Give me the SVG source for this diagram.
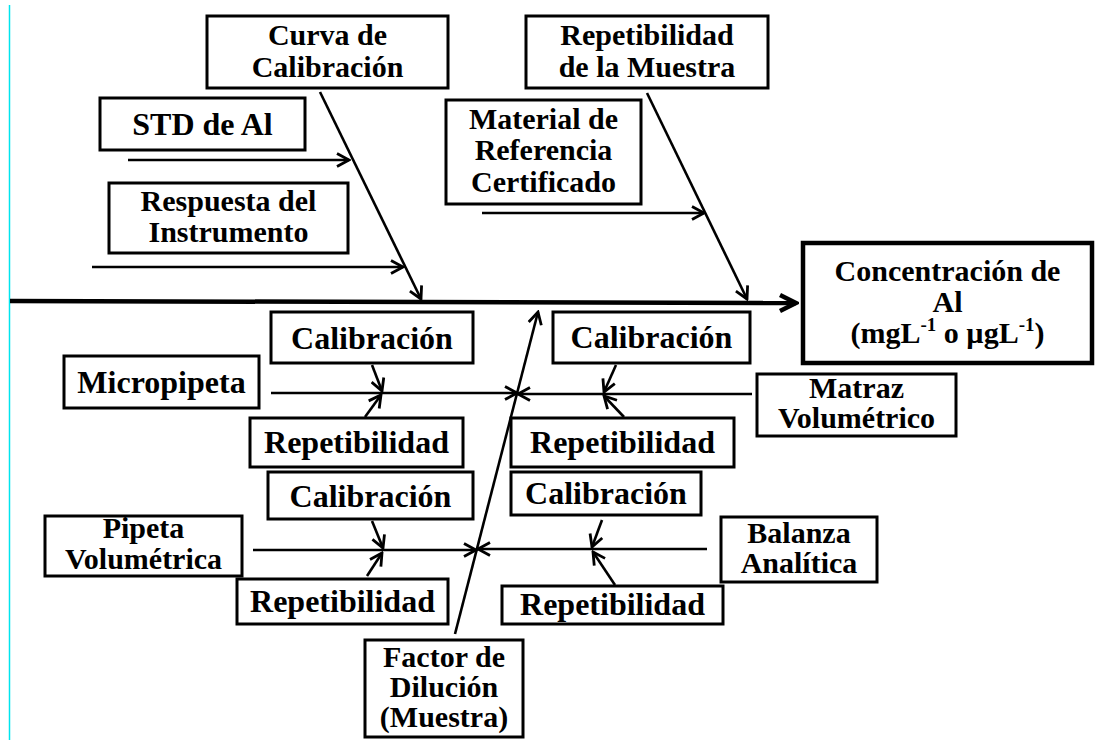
<svg xmlns="http://www.w3.org/2000/svg" width="1097" height="740" viewBox="0 0 1097 740">
<style>
.box{fill:#fff;stroke:#000;stroke-width:3}
.big{fill:#fff;stroke:#000;stroke-width:4.5}
text{font-family:"Liberation Serif","Times New Roman",serif;font-weight:bold;font-size:32px;fill:#000;text-anchor:middle}
text.m{font-size:30px}
.ln{stroke:#000;stroke-width:2.6;fill:none;marker-end:url(#ah)}
.spine{stroke:#000;stroke-width:4.5;fill:none;marker-end:url(#ahbig)}
</style>
<defs>
<marker id="ah" markerUnits="userSpaceOnUse" markerWidth="16" markerHeight="16" viewBox="0 0 16 16" refX="14" refY="8" orient="auto">
<path d="M2,1.5 L14,8 L2,14.5" fill="none" stroke="#000" stroke-width="2.8"/>
</marker>
<marker id="ahbig" markerUnits="userSpaceOnUse" markerWidth="22" markerHeight="22" viewBox="0 0 22 22" refX="19" refY="11" orient="auto">
<path d="M3,3 L19,11 L3,19" fill="none" stroke="#000" stroke-width="4.5"/>
</marker>
</defs>
<rect width="1097" height="740" fill="#fff"/>
<line x1="9.5" y1="5" x2="9.5" y2="740" stroke="#00e5ee" stroke-width="1.5"/>

<g id="connectors">
<line class="spine" x1="10" y1="301" x2="796" y2="303"/>
<line class="ln" x1="320" y1="92" x2="421" y2="299"/>
<line class="ln" x1="128" y1="160" x2="349" y2="160"/>
<line class="ln" x1="92" y1="267" x2="403" y2="267"/>
<line class="ln" x1="647" y1="93" x2="747" y2="299"/>
<line class="ln" x1="482" y1="213" x2="704" y2="213"/>
<line class="ln" x1="455" y1="634" x2="538" y2="312"/>
<line class="ln" x1="271" y1="393" x2="517" y2="393"/>
<line class="ln" x1="372" y1="365" x2="382" y2="391"/>
<line class="ln" x1="365" y1="417" x2="381" y2="395"/>
<line class="ln" x1="752" y1="394" x2="518" y2="394"/>
<line class="ln" x1="616" y1="365" x2="604" y2="392"/>
<line class="ln" x1="624" y1="417" x2="604" y2="396"/>
<line class="ln" x1="253" y1="550" x2="476" y2="550"/>
<line class="ln" x1="372" y1="521" x2="383" y2="548"/>
<line class="ln" x1="367" y1="576" x2="382" y2="553"/>
<line class="ln" x1="707" y1="549" x2="478" y2="549"/>
<line class="ln" x1="602" y1="520" x2="592" y2="547"/>
<line class="ln" x1="615" y1="585" x2="593" y2="552"/>
</g>

<g id="curva">
<rect class="box" x="207" y="16" width="241" height="72"/>
<text class="m" x="327.5" y="45">Curva de</text>
<text class="m" x="327.5" y="77">Calibración</text>
</g>
<g id="std">
<rect class="box" x="100" y="98" width="205" height="52"/>
<text x="202.5" y="135">STD de Al</text>
</g>
<g id="respuesta">
<rect class="box" x="109" y="183" width="239" height="70"/>
<text class="m" x="228.5" y="211">Respuesta del</text>
<text class="m" x="228.5" y="242">Instrumento</text>
</g>
<g id="repMuestra">
<rect class="box" x="526" y="16" width="242" height="72"/>
<text class="m" x="647" y="45">Repetibilidad</text>
<text class="m" x="647" y="77">de la Muestra</text>
</g>
<g id="material">
<rect class="box" x="446" y="100" width="195" height="104"/>
<text class="m" x="543.5" y="129">Material de</text>
<text class="m" x="543.5" y="160">Referencia</text>
<text class="m" x="543.5" y="192">Certificado</text>
</g>
<g id="concentracion">
<rect class="big" x="803" y="243" width="289" height="120"/>
<text class="m" x="947.5" y="281">Concentración de</text>
<text class="m" x="947.5" y="312">Al</text>
<text class="m" x="947.5" y="343">(mgL<tspan font-size="19" dy="-12">-1</tspan><tspan dy="12"> o µgL</tspan><tspan font-size="19" dy="-12">-1</tspan><tspan dy="12">)</tspan></text>
</g>
<g id="calib1">
<rect class="box" x="271" y="312" width="202" height="51"/>
<text x="372" y="349">Calibración</text>
</g>
<g id="micropipeta">
<rect class="box" x="64" y="356" width="195" height="52"/>
<text x="161.5" y="393">Micropipeta</text>
</g>
<g id="rep1">
<rect class="box" x="250" y="418" width="213" height="49"/>
<text x="356.5" y="453">Repetibilidad</text>
</g>
<g id="calib2">
<rect class="box" x="553" y="312" width="197" height="51"/>
<text x="651.5" y="348">Calibración</text>
</g>
<g id="matraz">
<rect class="box" x="757" y="374" width="199" height="62"/>
<text class="m" x="856.5" y="398">Matraz</text>
<text class="m" x="856.5" y="428">Volumétrico</text>
</g>
<g id="rep2">
<rect class="box" x="511" y="418" width="223" height="49"/>
<text x="622.5" y="453">Repetibilidad</text>
</g>
<g id="calib3">
<rect class="box" x="268" y="472" width="205" height="47"/>
<text x="370.5" y="507">Calibración</text>
</g>
<g id="pipeta">
<rect class="box" x="45" y="516" width="197" height="60"/>
<text class="m" x="143.5" y="538">Pipeta</text>
<text class="m" x="143.5" y="569">Volumétrica</text>
</g>
<g id="rep3">
<rect class="box" x="237" y="579" width="211" height="45"/>
<text x="342.5" y="612">Repetibilidad</text>
</g>
<g id="calib4">
<rect class="box" x="511" y="472" width="190" height="43"/>
<text x="606" y="504">Calibración</text>
</g>
<g id="balanza">
<rect class="box" x="721" y="517" width="156" height="65"/>
<text class="m" x="799" y="543">Balanza</text>
<text class="m" x="799" y="573">Analítica</text>
</g>
<g id="rep4">
<rect class="box" x="502" y="586" width="221" height="38"/>
<text x="612.5" y="615">Repetibilidad</text>
</g>
<g id="factor">
<rect class="box" x="365" y="640" width="158" height="97"/>
<text class="m" x="444" y="667">Factor de</text>
<text class="m" x="444" y="697">Dilución</text>
<text class="m" x="444" y="727">(Muestra)</text>
</g>
</svg>
